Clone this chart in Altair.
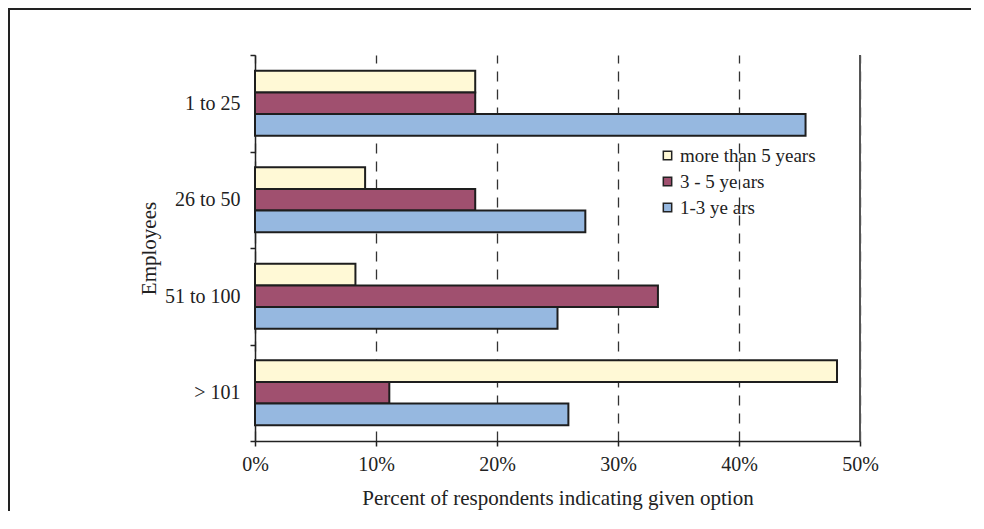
import altair as alt
import pandas as pd

categories = ["1 to 25", "26 to 50", "51 to 100", "> 101"]
series = ["more than 5 years", "3 - 5 ye ars", "1-3 ye ars"]
more_than_5 = [18.2, 9.1, 8.3, 48.1]
three_to_5 = [18.2, 18.2, 33.3, 11.1]
one_to_3 = [45.5, 27.3, 25.0, 25.9]
x_ticks = [0, 10, 20, 30, 40, 50]
colors = ["#FFF9D6", "#A0506F", "#96B8E0"]

rows = []
for s, vals in zip(series, [more_than_5, three_to_5, one_to_3]):
    for c, v in zip(categories, vals):
        rows.append({"Employees": c, "Series": s, "Value": v / 100})
df = pd.DataFrame(rows)

FONT = "Liberation Serif"

bars = alt.Chart(df).mark_bar(stroke="#1e1e1e", strokeWidth=2).encode(
    x=alt.X("Value:Q",
            scale=alt.Scale(domain=[0, 0.5], nice=False),
            axis=alt.Axis(values=[t / 100 for t in x_ticks], format=".0%",
                          title="Percent of respondents indicating given option",
                          grid=True, gridDash=[10, 8], gridColor="#333333", gridWidth=1.3,
                          domainColor="#222222", domainWidth=1.5,
                          tickColor="#222222", tickSize=5, tickWidth=1.5,
                          labelFlush=False, labelPadding=8, titlePadding=13)),
    y=alt.Y("Employees:N", sort=categories,
            scale=alt.Scale(paddingInner=0, paddingOuter=0),
            axis=alt.Axis(title="Employees", tickBand="extent",
                          domainColor="#222222", domainWidth=1.5,
                          tickColor="#222222", tickSize=5, tickWidth=1.5,
                          labelPadding=10, titlePadding=5)),
    yOffset=alt.YOffset("Series:N", sort=series,
                        scale=alt.Scale(paddingInner=0, paddingOuter=0.72)),
    fill=alt.Fill("Series:N", sort=series,
                  scale=alt.Scale(domain=series, range=colors),
                  legend=alt.Legend(title=None, orient="none", legendX=403, legendY=91,
                                    symbolType="square", symbolSize=70,
                                    symbolStrokeColor="#222222", symbolStrokeWidth=1.5,
                                    labelFontSize=19, labelFont=FONT, labelColor="#222222",
                                    labelOffset=3, rowPadding=6, padding=0)),
)

edge = alt.Chart(pd.DataFrame({"v": [x_ticks[-1] / 100]})).mark_rule(
    color="#555555", strokeWidth=2
).encode(x="v:Q")

frame_top = alt.Chart(pd.DataFrame({"a": [0]})).mark_rule(color="#222222", strokeWidth=2).encode(
    x=alt.value(-247), x2=alt.value(716), y=alt.value(-46)
)
frame_left = alt.Chart(pd.DataFrame({"a": [0]})).mark_rule(color="#222222", strokeWidth=2).encode(
    x=alt.value(-246), y=alt.value(-46), y2=alt.value(470)
)

chart = alt.layer(bars, edge, frame_top, frame_left).properties(
    width=605, height=386,
    autosize=alt.AutoSizeParams(type="none"),
    padding={"left": 247, "top": 47, "right": 114, "bottom": 70},
).configure_view(stroke=None).configure_axis(
    labelFont=FONT, titleFont=FONT, labelFontSize=20, titleFontSize=21,
    labelColor="#222222", titleColor="#222222", titleFontWeight="normal",
).configure_axisY(grid=False)

chart.save("out.html", embed_options={"renderer": "svg", "actions": False})
